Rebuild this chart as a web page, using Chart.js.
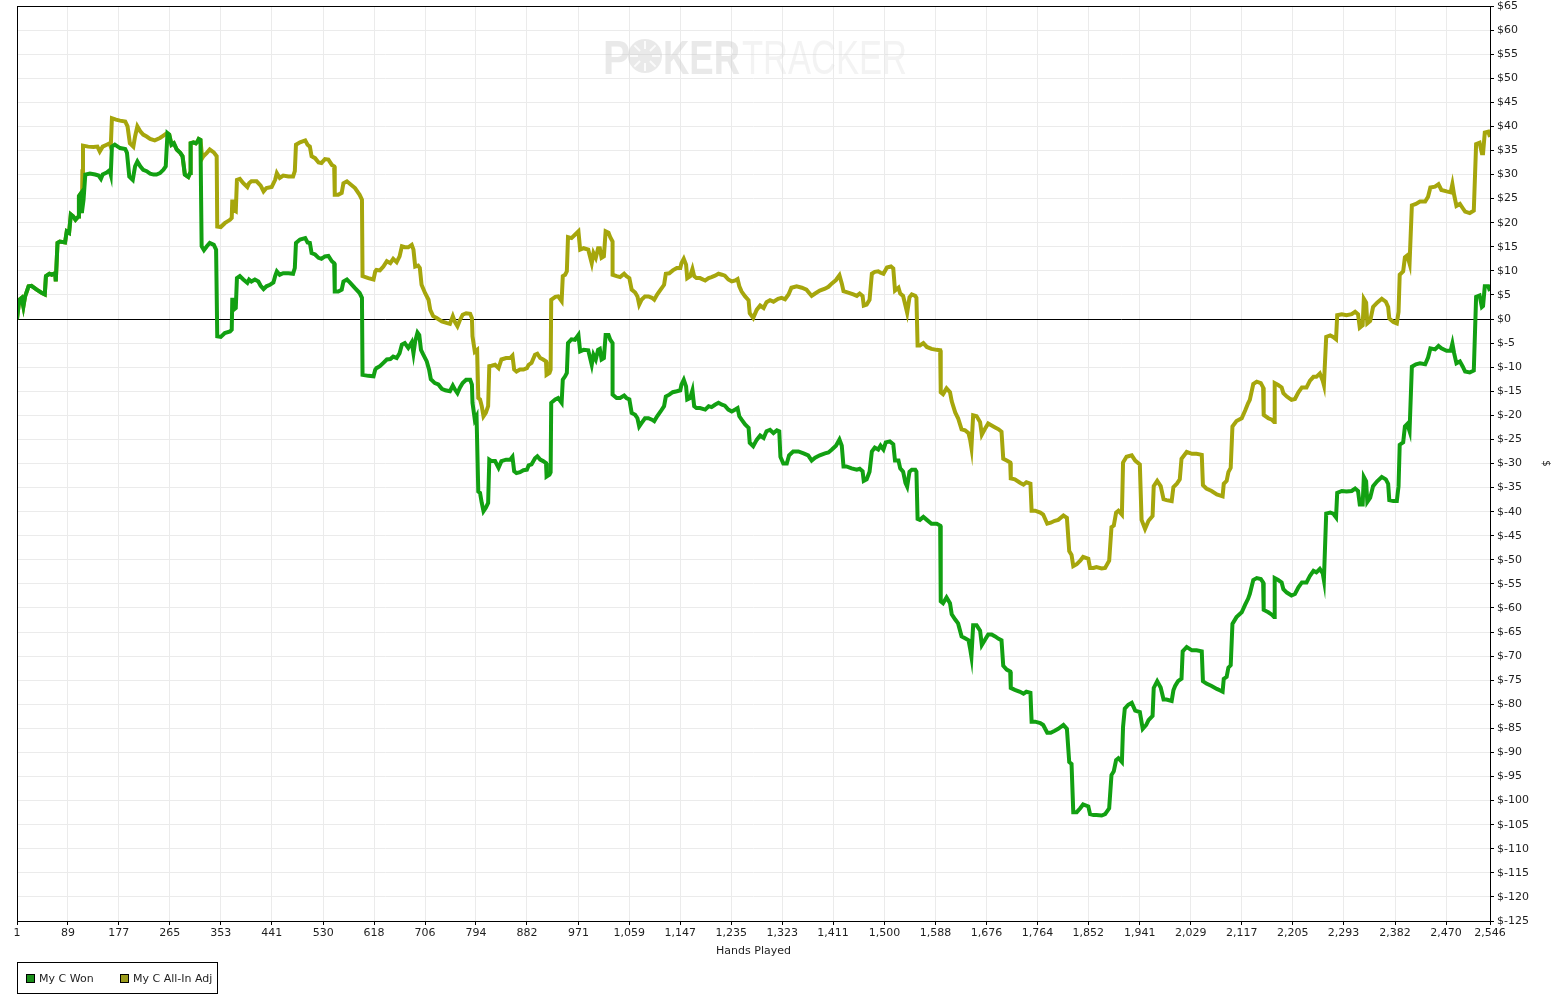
<!DOCTYPE html>
<html>
<head>
<meta charset="utf-8">
<title>My C Won / All-In Adj</title>
<script src="https://cdn.jsdelivr.net/npm/chart.js@4.4.1/dist/chart.umd.min.js"></script>
<style>
  html, body { margin: 0; padding: 0; background: #fff; }
  #graph { display: block; }
</style>
</head>
<body>
<canvas id="graph" width="1559" height="999"></canvas>
<script>
//series names + colours
const seriesNames = ["My C Won", "My C All-In Adj"];
const seriesColors = ["#12a012", "#a6a60c"];
//hands where the x axis is labelled
const xTickHands = [1, 89, 177, 265, 353, 441, 530, 618, 706, 794, 882, 971, 1059, 1147, 1235,
  1323, 1411, 1500, 1588, 1676, 1764, 1852, 1941, 2029, 2117, 2205, 2293, 2382, 2470, 2546];
//dollar range of the right axis
const yMin = -125, yMax = 65, yStep = 5;

//[hand, $ won]
const wonTrace = [
  [1,0],[5,4.0],[9,4.4],[12,2.6],[15,4.7],[21,6.8],[26,6.9],[35,6.1],[44,5.4],[49,5.1],
  [51,8.9],[57,9.4],[61,9.2],[67,9.5],[68,7.8],[71,15.8],[75,16.1],[84,15.9],[87,18.2],[91,17.9],
  [94,21.7],[98,21.3],[102,20.6],[107,21.3],[108,25.5],[112,26.2],[113,22.0],[116,24.8],[119,30.0],[127,30.2],
  [136,30.0],[142,29.8],[146,29.1],[149,30.0],[156,30.4],[161,30.9],[163,30.0],[165,35.8],[170,36.2],[179,35.5],
  [188,35.3],[191,34.5],[195,29.6],[201,28.9],[205,31.7],[209,32.7],[214,31.7],[219,31.0],[225,30.7],[231,30.2],
  [237,30.0],[242,30.0],[248,30.3],[254,31.0],[258,31.7],[261,38.6],[264,38.3],[268,36.2],[272,36.5],[277,35.2],
  [283,34.5],[287,33.8],[291,30.0],[297,29.5],[300,30.3],[301,36.5],[306,36.7],[310,36.5],[313,36.9],[315,37.4],
  [318,37.2],[320,15.1],[324,14.3],[329,15.1],[334,15.8],[341,15.4],[345,14.4],[347,-3.6],[353,-3.7],[360,-2.9],
  [369,-2.6],[372,-2.2],[373,4.4],[375,1.9],[379,2.3],[381,8.5],[386,8.9],[392,8.2],[399,7.5],[402,8.2],
  [406,7.8],[412,8.2],[418,7.8],[422,6.9],[427,6.2],[432,6.8],[438,7.1],[444,7.6],[447,8.9],[450,9.9],
  [455,9.2],[461,9.5],[470,9.5],[478,9.4],[481,10.6],[483,15.8],[490,16.5],[499,16.8],[503,15.9],[507,15.8],
  [510,13.7],[516,13.4],[522,12.7],[527,12.5],[533,13.0],[539,13.1],[545,12.0],[549,11.6],[550,5.7],[556,5.7],
  [562,6.1],[565,7.8],[571,8.2],[576,7.6],[585,6.4],[593,5.4],[597,4.4],[598,-11.6],[608,-11.8],[617,-11.9],
  [620,-10.5],[622,-10.2],[628,-9.8],[634,-9.1],[640,-8.4],[646,-8.3],[651,-7.8],[657,-8.1],[662,-7.1],[666,-5.3],
  [671,-5.0],[677,-6.0],[683,-4.8],[686,-7.1],[689,-4.6],[693,-2.8],[696,-3.3],[699,-6.4],[703,-7.4],[709,-8.8],
  [713,-10.5],[716,-12.5],[723,-13.3],[729,-13.6],[735,-14.5],[741,-14.8],[749,-15.0],[754,-13.8],[758,-14.7],[762,-15.4],
  [766,-14.3],[771,-13.3],[777,-12.6],[784,-12.6],[787,-13.6],[788,-17.4],[792,-20.9],[795,-20.2],[798,-35.8],[801,-36.1],
  [804,-38.2],[807,-39.9],[811,-39.2],[815,-38.2],[817,-29.2],[821,-29.5],[827,-29.5],[833,-30.9],[838,-29.5],[846,-29.2],
  [853,-29.2],[857,-28.6],[860,-31.6],[864,-32.0],[870,-31.8],[876,-31.4],[882,-31.3],[885,-30.4],[890,-30.2],[896,-28.9],
  [900,-28.5],[905,-29.2],[910,-29.5],[915,-29.9],[916,-32.7],[921,-32.3],[923,-31.8],[924,-17.4],[931,-16.7],[936,-16.4],
  [942,-17.4],[944,-12.6],[948,-11.9],[951,-11.2],[953,-5.0],[959,-4.2],[965,-4.3],[971,-3.3],[974,-6.7],[980,-6.4],
  [988,-6.5],[994,-9.5],[997,-7.4],[1001,-8.4],[1005,-6.4],[1008,-6.2],[1011,-8.4],[1015,-8.1],[1018,-3.3],[1023,-3.3],
  [1026,-4.3],[1030,-5.0],[1030,-15.7],[1037,-16.4],[1043,-16.4],[1050,-15.9],[1054,-16.4],[1059,-16.7],[1063,-19.5],[1069,-19.9],
  [1073,-20.6],[1076,-22.3],[1080,-21.6],[1086,-20.6],[1092,-20.6],[1098,-20.9],[1102,-21.2],[1107,-20.2],[1113,-19.2],[1119,-18.1],
  [1122,-16.1],[1128,-15.7],[1134,-15.2],[1141,-15.0],[1147,-14.8],[1149,-13.6],[1153,-12.6],[1157,-14.0],[1159,-16.7],[1164,-16.4],
  [1168,-14.8],[1171,-18.1],[1175,-18.5],[1181,-18.5],[1190,-18.8],[1196,-18.1],[1201,-18.3],[1207,-17.8],[1213,-17.4],[1219,-17.8],
  [1224,-18.0],[1230,-18.8],[1236,-19.2],[1242,-18.8],[1246,-18.5],[1249,-20.2],[1253,-20.9],[1259,-21.9],[1265,-22.6],[1267,-25.7],
  [1273,-26.4],[1279,-25.1],[1285,-24.2],[1291,-24.7],[1296,-23.3],[1302,-23.0],[1308,-23.7],[1314,-23.1],[1318,-23.3],[1320,-28.6],
  [1325,-30.0],[1331,-30.0],[1335,-28.3],[1342,-27.5],[1351,-27.5],[1360,-27.9],[1368,-28.3],[1374,-29.4],[1380,-28.8],[1388,-28.3],
  [1397,-27.9],[1403,-27.7],[1409,-27.1],[1416,-26.3],[1422,-25.0],[1426,-26.3],[1429,-30.6],[1434,-30.6],[1443,-31.0],[1452,-31.3],
  [1457,-31.1],[1462,-31.6],[1464,-33.6],[1469,-33.3],[1474,-31.7],[1478,-27.5],[1483,-26.7],[1489,-27.1],[1493,-26.3],[1498,-27.1],
  [1502,-25.6],[1509,-25.4],[1515,-26.0],[1518,-29.4],[1524,-29.4],[1527,-31.0],[1532,-31.7],[1536,-34.0],[1539,-34.8],[1543,-31.7],
  [1547,-31.3],[1553,-31.3],[1555,-31.7],[1557,-41.5],[1561,-41.7],[1567,-41.1],[1573,-41.7],[1581,-42.5],[1590,-42.5],[1596,-42.9],
  [1597,-58.6],[1601,-59.0],[1607,-57.8],[1613,-59.0],[1616,-61.3],[1622,-62.4],[1627,-63.2],[1633,-65.9],[1639,-66.3],[1645,-66.7],
  [1648,-68.6],[1650,-70.1],[1653,-63.6],[1659,-63.6],[1665,-64.7],[1668,-67.7],[1673,-66.7],[1679,-65.5],[1685,-65.5],[1691,-65.9],
  [1697,-66.4],[1702,-66.7],[1705,-72.0],[1711,-72.8],[1717,-73.2],[1718,-76.6],[1725,-77.0],[1734,-77.4],[1740,-77.8],[1745,-77.4],
  [1752,-77.6],[1754,-83.6],[1760,-83.6],[1769,-83.9],[1774,-84.3],[1781,-85.9],[1787,-85.9],[1794,-85.5],[1800,-85.1],[1809,-84.3],
  [1815,-85.1],[1819,-92.0],[1823,-92.4],[1826,-102.4],[1832,-102.4],[1838,-101.6],[1843,-100.8],[1852,-101.2],[1855,-102.8],[1861,-103.0],
  [1866,-103.0],[1875,-103.1],[1881,-102.8],[1888,-101.6],[1892,-94.7],[1896,-93.9],[1900,-91.6],[1904,-91.2],[1910,-92.0],[1912,-84.7],
  [1915,-80.9],[1921,-80.1],[1927,-79.7],[1933,-81.3],[1941,-81.6],[1946,-85.1],[1952,-84.3],[1956,-83.3],[1963,-82.4],[1965,-76.6],
  [1971,-75.2],[1977,-76.5],[1982,-79.0],[1987,-79.0],[1996,-79.3],[1999,-77.1],[2002,-76.2],[2007,-75.2],[2013,-74.7],[2015,-69.0],
  [2022,-68.1],[2031,-68.8],[2039,-68.8],[2048,-69.0],[2050,-75.2],[2056,-75.7],[2065,-76.2],[2074,-76.8],[2079,-77.1],[2084,-77.4],
  [2086,-74.7],[2091,-74.3],[2094,-72.4],[2098,-71.9],[2101,-63.3],[2108,-61.9],[2117,-60.9],[2123,-59.3],[2128,-58.1],[2131,-57.1],
  [2137,-54.2],[2143,-53.8],[2150,-54.0],[2154,-54.7],[2155,-60.4],[2163,-60.9],[2169,-61.4],[2173,-61.9],[2174,-53.8],[2180,-54.2],
  [2186,-54.7],[2189,-56.1],[2195,-56.8],[2203,-57.4],[2209,-57.1],[2215,-55.7],[2221,-54.7],[2229,-54.7],[2235,-53.3],[2241,-52.3],
  [2246,-52.6],[2252,-51.9],[2257,-52.8],[2259,-54.2],[2263,-40.4],[2270,-40.2],[2275,-40.4],[2280,-41.2],[2282,-36.1],[2290,-35.7],
  [2298,-35.8],[2307,-35.7],[2313,-35.2],[2318,-35.7],[2321,-38.5],[2326,-38.5],[2328,-32.8],[2332,-33.7],[2334,-38.0],[2339,-37.1],
  [2344,-34.7],[2351,-33.7],[2359,-32.8],[2366,-33.3],[2370,-34.2],[2372,-37.6],[2379,-37.8],[2385,-37.8],[2388,-34.7],[2390,-26.1],
  [2396,-25.6],[2399,-22.3],[2403,-21.8],[2407,-23.3],[2411,-9.9],[2418,-9.4],[2425,-9.2],[2434,-9.4],[2439,-8.0],[2443,-6.1],
  [2451,-6.3],[2457,-5.6],[2462,-6.1],[2471,-6.6],[2478,-6.6],[2481,-5.1],[2484,-7.1],[2488,-9.2],[2494,-8.8],[2499,-9.9],
  [2503,-10.9],[2511,-11.1],[2518,-10.7],[2522,4.6],[2528,4.9],[2532,2.5],[2534,2.7],[2537,6.8],[2543,6.8],[2546,5.8]
];

//[hand, $ all-in adjusted]
const adjTrace = [
  [1,0],[5,4.0],[9,4.4],[12,2.6],[15,4.7],[21,6.8],[26,6.9],[35,6.1],[44,5.4],[49,5.1],
  [51,8.9],[57,9.4],[61,9.2],[67,9.5],[68,7.8],[71,15.8],[75,16.1],[84,15.9],[87,18.2],[91,17.9],
  [94,21.7],[98,21.3],[102,20.6],[107,21.3],[108,25.5],[112,26.2],[113,22.0],[114,30.7],[115,36.0],[124,35.8],
  [133,35.7],[140,35.8],[144,34.8],[149,35.8],[156,36.2],[161,36.5],[163,35.8],[165,41.7],[172,41.4],[179,41.2],
  [188,41.0],[192,40.0],[196,36.5],[202,35.8],[205,37.9],[209,40.0],[214,39.0],[219,38.3],[225,37.9],[231,37.4],
  [239,37.1],[248,37.6],[254,38.1],[260,38.6],[264,38.3],[268,36.2],[272,36.5],[277,35.2],[283,34.5],[287,33.8],
  [291,30.0],[297,29.5],[300,30.3],[301,36.5],[306,36.7],[310,36.5],[313,36.9],[315,37.4],[318,37.2],[321,33.4],
  [323,33.8],[329,34.5],[334,35.2],[341,34.6],[346,33.8],[347,19.2],[353,19.1],[360,19.9],[369,20.6],[372,21.0],
  [373,24.8],[375,22.7],[379,22.4],[381,28.9],[386,29.1],[392,28.2],[399,27.4],[402,28.2],[406,28.6],[415,28.6],
  [422,27.7],[427,26.5],[432,27.2],[441,27.4],[447,28.9],[450,30.3],[455,29.3],[461,29.8],[470,29.6],[478,29.6],
  [481,30.7],[483,36.2],[490,36.7],[499,37.1],[503,36.2],[507,35.8],[510,33.8],[516,33.4],[522,32.5],[527,32.4],
  [533,33.2],[539,33.1],[545,32.0],[549,31.7],[550,25.8],[556,25.8],[562,26.2],[565,28.2],[571,28.6],[576,28.1],
  [585,27.2],[593,25.8],[597,24.8],[598,8.9],[608,8.5],[617,8.2],[620,9.9],[622,10.2],[628,10.1],[634,10.9],
  [640,12.0],[646,11.6],[651,12.5],[657,11.8],[662,13.0],[666,15.1],[671,14.9],[677,14.9],[683,15.4],[686,14.4],
  [689,10.9],[694,11.1],[697,10.6],[700,7.1],[706,5.4],[712,4.0],[715,1.9],[720,0.6],[726,0.2],[735,-0.5],
  [743,-0.8],[749,-1.0],[754,0.6],[758,-0.7],[762,-1.5],[766,-0.3],[771,0.9],[777,1.2],[784,1.1],[787,0.2],
  [788,-3.6],[792,-6.8],[796,-6.4],[798,-16.4],[801,-16.7],[804,-18.1],[807,-20.2],[811,-19.5],[815,-18.1],[817,-9.8],
  [821,-9.7],[827,-9.5],[833,-10.2],[838,-8.4],[846,-8.1],[853,-8.1],[857,-7.6],[860,-10.5],[864,-10.9],[870,-10.5],
  [876,-10.5],[882,-10.2],[885,-9.5],[890,-9.1],[896,-7.4],[900,-7.2],[905,-8.1],[910,-8.4],[915,-8.8],[916,-11.6],
  [921,-11.2],[923,-10.5],[924,4.0],[931,4.6],[936,4.7],[942,3.7],[944,8.9],[948,9.2],[951,9.9],[953,17.0],
  [959,16.8],[965,17.5],[971,18.2],[974,14.4],[980,14.7],[988,14.4],[994,11.6],[997,13.7],[1001,12.7],[1005,14.7],
  [1008,14.7],[1011,12.7],[1015,13.0],[1018,18.2],[1023,17.9],[1026,17.0],[1030,16.1],[1030,9.2],[1037,8.9],[1043,8.7],
  [1050,9.4],[1054,8.9],[1059,8.5],[1063,6.1],[1069,5.5],[1073,4.7],[1076,3.0],[1080,4.0],[1086,4.7],[1092,4.7],
  [1098,4.4],[1102,4.0],[1107,5.1],[1113,6.1],[1119,7.1],[1122,9.4],[1128,9.5],[1134,10.1],[1141,10.6],[1147,10.6],
  [1149,11.6],[1153,12.5],[1157,11.3],[1159,8.5],[1164,8.9],[1168,10.4],[1171,8.9],[1175,8.5],[1181,8.5],[1190,8.0],
  [1196,8.5],[1201,8.7],[1207,9.0],[1213,9.4],[1219,9.2],[1224,9.0],[1230,8.2],[1236,7.8],[1242,8.0],[1246,8.3],
  [1249,6.8],[1253,5.7],[1259,4.7],[1265,3.9],[1267,1.2],[1273,0.2],[1279,1.9],[1285,2.8],[1291,2.3],[1296,3.5],
  [1302,3.9],[1308,3.6],[1316,4.2],[1322,4.4],[1328,4.1],[1334,5.1],[1339,6.5],[1348,6.8],[1357,6.5],[1365,6.1],
  [1374,4.8],[1380,5.3],[1388,5.9],[1397,6.3],[1403,6.7],[1409,7.4],[1416,8.1],[1422,9.1],[1426,7.4],[1429,5.8],
  [1437,5.5],[1446,5.1],[1452,4.8],[1457,5.3],[1462,4.8],[1464,2.8],[1469,3.0],[1474,4.0],[1478,9.4],[1483,9.8],
  [1489,9.9],[1493,9.6],[1498,9.4],[1504,10.7],[1511,10.9],[1515,10.5],[1518,5.9],[1524,6.5],[1527,5.3],[1532,4.8],
  [1536,2.8],[1539,1.3],[1543,4.5],[1547,5.1],[1553,4.8],[1555,4.4],[1557,-5.5],[1561,-5.5],[1567,-5.0],[1573,-5.8],
  [1581,-6.2],[1590,-6.4],[1596,-6.5],[1597,-15.2],[1601,-15.6],[1607,-14.4],[1613,-15.2],[1616,-17.1],[1622,-19.4],[1627,-20.6],
  [1633,-22.9],[1639,-23.1],[1645,-23.7],[1648,-25.2],[1650,-26.7],[1653,-20.0],[1659,-20.2],[1665,-21.4],[1668,-24.0],[1673,-22.9],
  [1679,-21.7],[1685,-22.1],[1691,-22.5],[1697,-22.9],[1702,-23.4],[1705,-29.0],[1711,-29.4],[1717,-29.8],[1718,-33.1],[1725,-33.3],
  [1734,-34.0],[1740,-34.4],[1745,-33.9],[1752,-34.2],[1754,-39.8],[1760,-39.8],[1769,-40.2],[1774,-40.6],[1781,-42.5],[1787,-42.3],
  [1794,-41.9],[1800,-41.7],[1809,-40.8],[1815,-41.3],[1819,-48.2],[1823,-49.0],[1826,-51.3],[1832,-50.9],[1838,-50.2],[1843,-49.4],
  [1852,-49.8],[1855,-51.7],[1861,-51.7],[1866,-51.5],[1875,-51.8],[1881,-51.7],[1888,-50.2],[1892,-43.2],[1896,-42.9],[1900,-40.2],
  [1904,-39.8],[1910,-40.6],[1912,-29.8],[1918,-28.6],[1927,-28.3],[1933,-29.4],[1941,-30.2],[1944,-41.7],[1950,-43.6],[1956,-41.9],
  [1963,-40.9],[1965,-34.7],[1971,-33.6],[1977,-34.7],[1982,-37.4],[1987,-37.6],[1996,-37.8],[1999,-34.9],[2005,-34.2],[2010,-33.3],
  [2013,-29.0],[2022,-27.6],[2031,-28.0],[2039,-28.0],[2048,-28.2],[2050,-34.5],[2056,-35.2],[2065,-35.7],[2074,-36.4],[2079,-36.6],
  [2084,-36.8],[2086,-34.2],[2091,-33.6],[2094,-31.8],[2098,-30.9],[2101,-22.3],[2108,-21.2],[2117,-20.6],[2123,-19.0],[2128,-17.5],
  [2131,-16.8],[2137,-13.5],[2143,-13.0],[2150,-13.3],[2154,-14.2],[2155,-19.9],[2163,-20.6],[2169,-20.9],[2173,-21.4],[2174,-13.3],
  [2180,-13.7],[2186,-14.2],[2189,-15.4],[2195,-16.1],[2203,-16.8],[2209,-16.6],[2215,-15.2],[2221,-14.2],[2229,-14.2],[2235,-12.8],
  [2241,-12.0],[2246,-12.0],[2252,-11.3],[2257,-12.8],[2259,-13.7],[2263,-3.7],[2270,-3.4],[2275,-3.7],[2280,-4.2],[2282,0.8],
  [2290,1.0],[2298,0.8],[2307,1.0],[2313,1.5],[2318,1.0],[2321,-1.8],[2326,-1.3],[2328,4.2],[2332,3.4],[2334,-0.9],
  [2339,-0.4],[2344,2.5],[2351,3.4],[2359,4.2],[2366,3.6],[2370,2.5],[2372,0.1],[2379,-0.6],[2385,-0.9],[2388,1.5],
  [2390,9.2],[2396,9.9],[2399,12.8],[2403,13.2],[2407,11.5],[2411,23.6],[2418,23.9],[2425,24.4],[2434,24.4],[2439,25.4],
  [2443,27.3],[2451,27.5],[2457,28.0],[2462,26.8],[2471,26.5],[2478,26.3],[2481,28.0],[2484,25.8],[2488,23.5],[2494,23.9],
  [2499,23.0],[2503,22.3],[2511,22.0],[2518,22.5],[2522,36.3],[2528,36.6],[2532,34.4],[2534,34.4],[2537,38.7],[2543,38.9],
  [2546,37.8]
];

const FONT = "'DejaVu Sans', Verdana, sans-serif";
const INK = "#1e1e1e";

//faint POKERTRACKER mark behind the lines
const watermark = {
  id: "watermark",
  beforeDatasetsDraw(chart) {
    const ctx = chart.ctx;
    ctx.save();
    ctx.textBaseline = "alphabetic";
    ctx.font = "bold 49px 'Liberation Sans', Arial, sans-serif";
    ctx.fillStyle = "rgba(200,200,200,0.4)";
    ctx.fillText("P", 603, 74, 27);
    ctx.fillText("KER", 663, 74, 77);
    //the O is a poker chip
    ctx.beginPath();
    ctx.arc(645, 56, 17, 0, Math.PI * 2);
    ctx.fill();
    ctx.strokeStyle = "rgba(255,255,255,0.8)";
    ctx.lineWidth = 2;
    for (let a = 0; a < 8; a++) {
      const t = a * Math.PI / 4;
      ctx.beginPath();
      ctx.moveTo(645 + Math.cos(t) * 7, 56 + Math.sin(t) * 7);
      ctx.lineTo(645 + Math.cos(t) * 15, 56 + Math.sin(t) * 15);
      ctx.stroke();
    }
    ctx.font = "49px 'Liberation Sans', Arial, sans-serif";
    ctx.fillStyle = "rgba(215,215,215,0.3)";
    ctx.fillText("TRACKER", 742, 74, 165);
    ctx.restore();
  }
};

//black frame round the plot area + boxed legend under it
const frameAndLegend = {
  id: "frameAndLegend",
  afterDraw(chart) {
    const ctx = chart.ctx;
    const a = chart.chartArea;
    ctx.save();
    ctx.strokeStyle = "#000";
    ctx.lineWidth = 1;
    ctx.strokeRect(Math.round(a.left) + 0.5, Math.round(a.top) + 0.5,
      Math.round(a.right - a.left), Math.round(a.bottom - a.top));

    ctx.strokeRect(17.5, 962.5, 200, 31);
    ctx.font = "11px " + FONT;
    ctx.textBaseline = "middle";
    const xs = [26, 120];
    chart.data.datasets.forEach((ds, i) => {
      ctx.fillStyle = ds.legendFill;
      ctx.fillRect(xs[i], 974, 9, 9);
      ctx.strokeStyle = "#000";
      ctx.strokeRect(xs[i] + 0.5, 974.5, 8, 8);
      ctx.fillStyle = INK;
      ctx.fillText(ds.label, xs[i] + 13, 979);
    });
    ctx.restore();
  }
};

const toPoints = (trace) => trace.map(p => ({ x: p[0], y: p[1] }));

new Chart(document.getElementById("graph"), {
  type: "line",
  plugins: [watermark, frameAndLegend],
  data: {
    datasets: [
      {
        label: seriesNames[0],
        data: toPoints(wonTrace),
        borderColor: seriesColors[0],
        legendFill: "#1a8f1a",
        borderWidth: 4,
        pointRadius: 0,
        tension: 0,
      },
      {
        label: seriesNames[1],
        data: toPoints(adjTrace),
        borderColor: seriesColors[1],
        legendFill: "#9c9c1c",
        borderWidth: 4,
        pointRadius: 0,
        tension: 0,
      },
    ],
  },
  options: {
    responsive: false,
    animation: false,
    layout: { padding: { left: 17, top: 6, right: 0, bottom: 41 } },
    plugins: {
      legend: { display: false },
      tooltip: { enabled: false },
    },
    scales: {
      x: {
        type: "linear",
        position: "bottom",
        min: 1,
        max: 2546,
        afterBuildTicks: (scale) => { scale.ticks = xTickHands.map(v => ({ value: v })); },
        afterFit: (scale) => { scale.height = 37; },
        ticks: {
          autoSkip: false,
          maxRotation: 0,
          padding: 2,
          color: INK,
          font: { family: FONT, size: 11 },
          callback: (v) => v.toLocaleString("en-US"),
        },
        grid: { color: "#ebebeb", tickColor: "#000", tickLength: 4 },
        border: { display: true, color: "#000" },
        title: {
          display: true,
          text: "Hands Played",
          color: INK,
          font: { family: FONT, size: 11 },
          padding: { top: 0, bottom: 0 },
        },
      },
      y: {
        position: "right",
        min: yMin,
        max: yMax,
        //plot frame sits right at the top, let the $65 label overhang
        afterFit: (scale) => { scale.width = 69; scale.paddingTop = 0; scale.paddingBottom = 0; },
        ticks: {
          stepSize: yStep,
          padding: 3,
          color: INK,
          font: { family: FONT, size: 11 },
          callback: (v) => "$" + v,
        },
        grid: {
          color: (c) => (c.tick && c.tick.value === 0 ? "#000" : "#ebebeb"),
          tickColor: "#000",
          tickLength: 4,
        },
        border: { display: true, color: "#000" },
        title: {
          display: true,
          text: "$",
          color: INK,
          font: { family: FONT, size: 10 },
          padding: { top: 7, bottom: 0 },
        },
      },
    },
  },
});
</script>
</body>
</html>
